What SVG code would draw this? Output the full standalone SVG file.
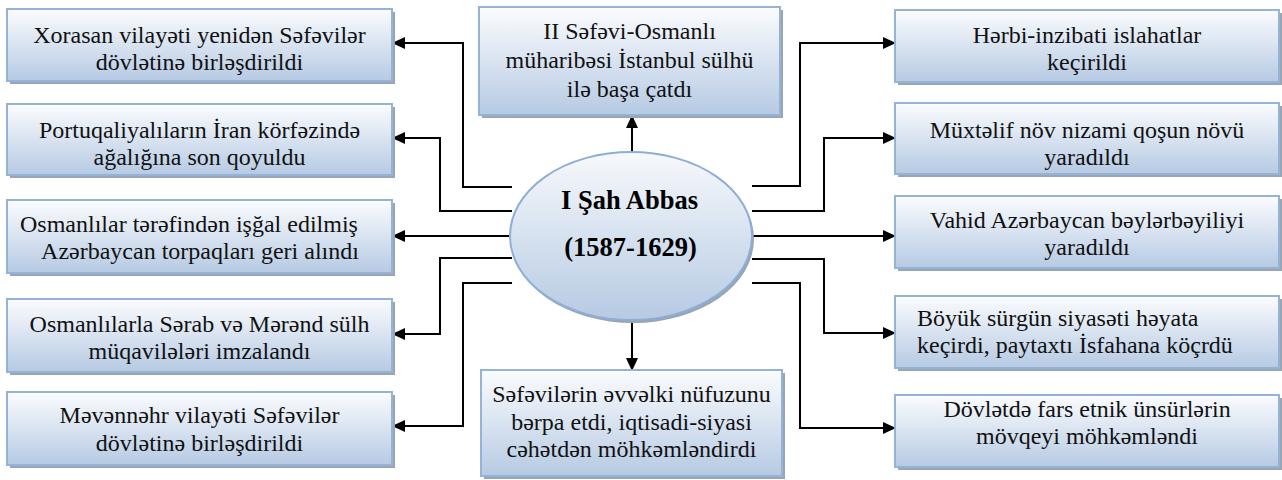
<svg xmlns="http://www.w3.org/2000/svg" width="1282" height="480" viewBox="0 0 1282 480">
<defs>
<linearGradient id="boxGrad" x1="0" y1="0" x2="0" y2="1">
<stop offset="0" stop-color="#fbfcfe"/>
<stop offset="1" stop-color="#b6cae3"/>
</linearGradient>
<linearGradient id="ellGrad" x1="0" y1="0" x2="0" y2="1">
<stop offset="0" stop-color="#f7f9fc"/>
<stop offset="1" stop-color="#b6cae3"/>
</linearGradient>
<marker id="arrow" markerUnits="userSpaceOnUse" markerWidth="13" markerHeight="12" refX="12" refY="6" orient="auto">
<path d="M0,0 L13,6 L0,12 z" fill="#000"/>
</marker>
</defs>
<style>
.shadow{fill:#98a5b6;}
.box{fill:url(#boxGrad);stroke:#95b3d7;stroke-width:2;}
.t{font-family:"Liberation Serif","Times New Roman",serif;font-size:24px;fill:#111;text-anchor:middle;}
.ts{font-family:"Liberation Serif","Times New Roman",serif;font-size:24px;fill:#111;text-anchor:start;}
.tb{font-family:"Liberation Serif","Times New Roman",serif;font-size:26.5px;font-weight:bold;fill:#000;text-anchor:middle;}
.c{fill:none;stroke:#000;stroke-width:2;marker-end:url(#arrow);}
</style>
<rect width="1282" height="480" fill="#fff"/>

<g id="connectors">
<path class="c" d="M512,187 H463 V43 H393"/>
<path class="c" d="M512,211 H440 V138 H393"/>
<path class="c" d="M512,236 H393"/>
<path class="c" d="M512,258 H440 V334 H393"/>
<path class="c" d="M512,283 H463 V426 H393"/>
<path class="c" d="M752,186 H800 V43 H895"/>
<path class="c" d="M752,211 H824 V138 H895"/>
<path class="c" d="M752,236 H895"/>
<path class="c" d="M752,259 H824 V333 H895"/>
<path class="c" d="M752,283 H800 V428 H895"/>
<path class="c" d="M632,154 V116"/>
<path class="c" d="M632,322 V370"/>
</g>

<g id="center">
<ellipse cx="633" cy="239" rx="121" ry="84" class="shadow"/>
<ellipse cx="631" cy="236" rx="121" ry="84" fill="url(#ellGrad)" stroke="#8eaed6" stroke-width="2"/>
<text class="tb" x="629.5" y="209">I Şah Abbas</text>
<text class="tb" x="630.5" y="256">(1587-1629)</text>
</g>

<g id="top">
<rect class="shadow" x="482" y="10" width="301" height="108"/>
<rect class="box" x="479" y="7" width="301" height="108"/>
<text class="t" x="629.5" y="39">II Səfəvi-Osmanlı</text>
<text class="t" x="629.5" y="68">müharibəsi İstanbul sülhü</text>
<text class="t" x="629.5" y="97">ilə başa çatdı</text>
</g>

<g id="bottom">
<rect class="shadow" x="484" y="373" width="301" height="106"/>
<rect class="box" x="481" y="370" width="301" height="106"/>
<text class="t" x="631.5" y="402">Səfəvilərin əvvəlki nüfuzunu</text>
<text class="t" x="631.5" y="430">bərpa etdi, iqtisadi-siyasi</text>
<text class="t" x="631.5" y="457">cəhətdən möhkəmləndirdi</text>
</g>

<g id="left1">
<rect class="shadow" x="10" y="12" width="385" height="72"/>
<rect class="box" x="7" y="9" width="385" height="72"/>
<text class="t" x="199.5" y="43">Xorasan vilayəti yenidən Səfəvilər</text>
<text class="t" x="199.5" y="70">dövlətinə birləşdirildi</text>
</g>
<g id="left2">
<rect class="shadow" x="10" y="107" width="385" height="71"/>
<rect class="box" x="7" y="104" width="385" height="71"/>
<text class="t" x="199.5" y="138">Portuqaliyalıların İran körfəzində</text>
<text class="t" x="199.5" y="165">ağalığına son qoyuldu</text>
</g>
<g id="left3">
<rect class="shadow" x="10" y="203" width="385" height="73"/>
<rect class="box" x="7" y="200" width="385" height="73"/>
<text class="ts" x="20" y="232">Osmanlılar tərəfindən işğal edilmiş</text>
<text class="t" x="200" y="259">Azərbaycan torpaqları geri alındı</text>
</g>
<g id="left4">
<rect class="shadow" x="10" y="302" width="385" height="73"/>
<rect class="box" x="7" y="299" width="385" height="73"/>
<text class="t" x="199.5" y="332">Osmanlılarla Sərab və Mərənd sülh</text>
<text class="t" x="199.5" y="359">müqavilələri imzalandı</text>
</g>
<g id="left5">
<rect class="shadow" x="10" y="395" width="385" height="73"/>
<rect class="box" x="7" y="392" width="385" height="73"/>
<text class="t" x="199.5" y="423">Məvənnəhr vilayəti Səfəvilər</text>
<text class="t" x="199.5" y="451">dövlətinə birləşdirildi</text>
</g>

<g id="right1">
<rect class="shadow" x="898" y="13" width="384" height="72"/>
<rect class="box" x="895" y="10" width="384" height="72"/>
<text class="t" x="1087" y="43">Hərbi-inzibati islahatlar</text>
<text class="t" x="1087" y="70">keçirildi</text>
</g>
<g id="right2">
<rect class="shadow" x="898" y="106" width="384" height="71"/>
<rect class="box" x="895" y="103" width="384" height="71"/>
<text class="t" x="1087" y="138">Müxtəlif növ nizami qoşun növü</text>
<text class="t" x="1087" y="165">yaradıldı</text>
</g>
<g id="right3">
<rect class="shadow" x="898" y="199" width="384" height="72"/>
<rect class="box" x="895" y="196" width="384" height="72"/>
<text class="t" x="1087" y="228">Vahid Azərbaycan bəylərbəyiliyi</text>
<text class="t" x="1087" y="255">yaradıldı</text>
</g>
<g id="right4">
<rect class="shadow" x="898" y="299" width="384" height="72"/>
<rect class="box" x="895" y="296" width="384" height="72"/>
<text class="ts" x="917" y="326">Böyük sürgün siyasəti həyata</text>
<text class="ts" x="917" y="353">keçirdi, paytaxtı İsfahana köçrdü</text>
</g>
<g id="right5">
<rect class="shadow" x="898" y="398" width="384" height="72"/>
<rect class="box" x="895" y="395" width="384" height="72"/>
<text class="t" x="1087" y="417">Dövlətdə fars etnik ünsürlərin</text>
<text class="t" x="1087" y="444">mövqeyi möhkəmləndi</text>
</g>
</svg>
